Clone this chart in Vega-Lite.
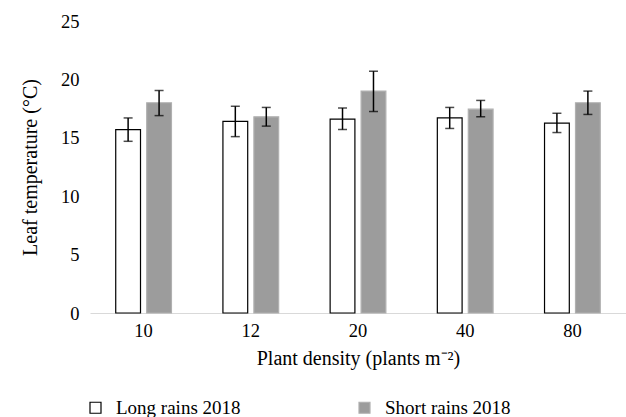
{
  "$schema": "https://vega.github.io/schema/vega-lite/v6.json",
  "autosize": "none",
  "width": 536,
  "height": 292,
  "padding": {"left": 90, "top": 21, "right": 0, "bottom": 104},
  "background": "white",
  "config": {
    "font": "Liberation Serif",
    "view": {"stroke": null},
    "axis": {"labelFont": "Liberation Serif", "titleFont": "Liberation Serif", "labelColor": "#000", "titleColor": "#000", "titleFontWeight": "normal"},
    "legend": {"labelFont": "Liberation Serif"}
  },
  "data": {
    "values": [
      {"density": "10", "season": "Long rains 2018", "value": 15.7, "lo": 14.7, "hi": 16.7},
      {"density": "10", "season": "Short rains 2018", "value": 18.0, "lo": 16.9, "hi": 19.05},
      {"density": "12", "season": "Long rains 2018", "value": 16.4, "lo": 15.1, "hi": 17.7},
      {"density": "12", "season": "Short rains 2018", "value": 16.8, "lo": 16.0, "hi": 17.6},
      {"density": "20", "season": "Long rains 2018", "value": 16.6, "lo": 15.7, "hi": 17.55},
      {"density": "20", "season": "Short rains 2018", "value": 19.0, "lo": 17.25, "hi": 20.7},
      {"density": "40", "season": "Long rains 2018", "value": 16.7, "lo": 15.8, "hi": 17.6},
      {"density": "40", "season": "Short rains 2018", "value": 17.45, "lo": 16.8, "hi": 18.2},
      {"density": "80", "season": "Long rains 2018", "value": 16.25, "lo": 15.45, "hi": 17.1},
      {"density": "80", "season": "Short rains 2018", "value": 18.0, "lo": 17.0, "hi": 19.0}
    ]
  },
  "encoding": {
    "x": {
      "field": "density", "type": "nominal", "sort": null,
      "scale": {"paddingInner": 0.48, "paddingOuter": 0.24},
      "axis": {
        "title": "Plant density (plants m⁻²)",
        "labelAngle": 0, "labelFontSize": 18.5, "titleFontSize": 20,
        "ticks": false, "labelPadding": 8, "titlePadding": 9,
        "domainColor": "#d9d9d9", "domainWidth": 1
      }
    },
    "xOffset": {"field": "season", "type": "nominal", "scale": {"paddingInner": 0.2}}
  },
  "layer": [
    {
      "mark": {"type": "bar", "strokeWidth": 1.2},
      "encoding": {
        "y": {
          "field": "value", "type": "quantitative",
          "scale": {"domain": [0, 25], "nice": false},
          "axis": {
            "title": "Leaf temperature (°C)", "values": [0, 5, 10, 15, 20, 25],
            "grid": false, "domain": false, "ticks": false,
            "labelFontSize": 18.5, "titleFontSize": 20, "labelPadding": 11, "titlePadding": 20
          }
        },
        "fill": {
          "field": "season", "type": "nominal",
          "scale": {"domain": ["Long rains 2018", "Short rains 2018"], "range": ["#ffffff", "#9c9c9c"]},
          "legend": {
            "title": null, "orient": "none", "legendX": -4, "legendY": 377,
            "direction": "horizontal", "columns": 2, "columnPadding": 114,
            "symbolType": "square", "symbolSize": 121, "symbolStrokeWidth": 1.2,
            "labelFontSize": 19, "labelOffset": 11, "labelColor": "#000", "labelLimit": 300
          }
        },
        "stroke": {
          "field": "season", "type": "nominal",
          "scale": {"domain": ["Long rains 2018", "Short rains 2018"], "range": ["#000000", "#b0b0b0"]},
          "legend": null
        }
      }
    },
    {
      "mark": {"type": "rule", "color": "#000", "strokeWidth": 1.5},
      "encoding": {
        "y": {"field": "lo", "type": "quantitative"},
        "y2": {"field": "hi"}
      }
    },
    {
      "mark": {"type": "tick", "color": "#000", "thickness": 1.5, "size": 9, "orient": "horizontal"},
      "encoding": {"y": {"field": "lo", "type": "quantitative"}}
    },
    {
      "mark": {"type": "tick", "color": "#000", "thickness": 1.5, "size": 9, "orient": "horizontal"},
      "encoding": {"y": {"field": "hi", "type": "quantitative"}}
    }
  ]
}
